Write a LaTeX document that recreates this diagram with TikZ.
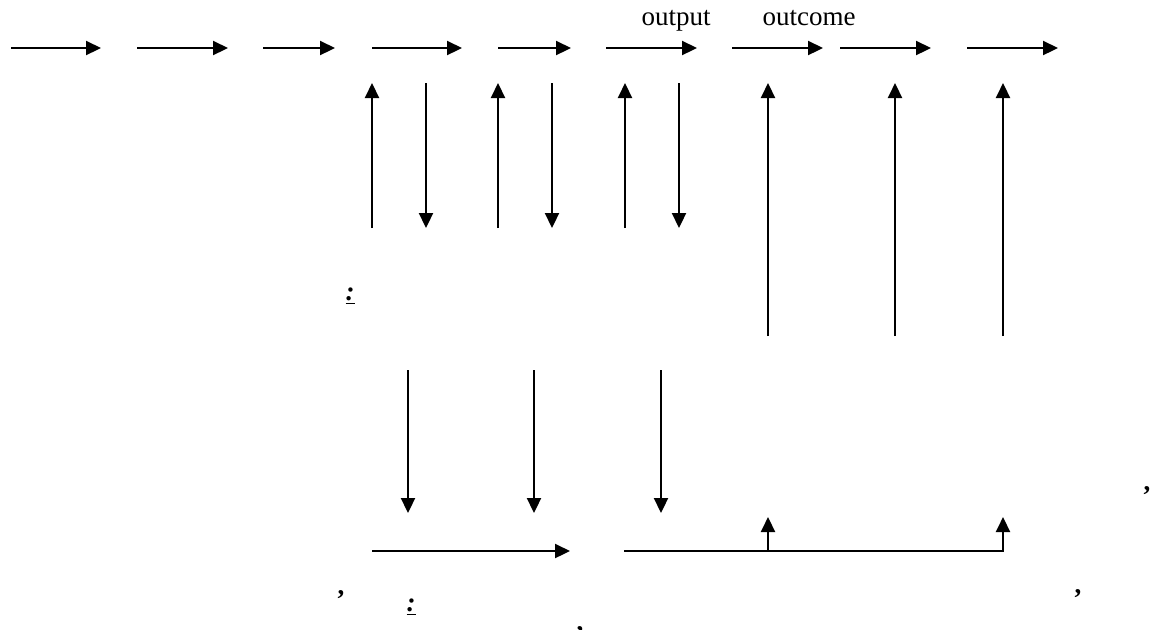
\documentclass[tikz,border=0pt]{standalone}
\usepackage{fontspec}
\setmainfont{Liberation Serif}
\usetikzlibrary{arrows.meta}

\begin{document}
\begin{tikzpicture}[
  x=0.5pt, y=-0.5pt,
  flow/.style={
    draw,
    line width=1.1pt,
    -{Triangle[length=7.5pt,width=7pt]},
  },
  label text/.style={
    inner sep=0pt,
    anchor=base,
    font=\fontsize{13.5}{16}\selectfont,
  },
  mark text/.style={
    label text,
    font=\fontsize{13.5}{16}\selectfont\bfseries,
  },
  ]
  \useasboundingbox (0,0) rectangle (1155,629);

  \foreach \i/\a/\b in {1/11/101, 2/137/228, 3/263/335, 4/372/462, 5/498/571,
    6/606/697, 7/732/823, 8/840/931, 9/967/1058} {
    \coordinate (stage-\i-in)  at (\a,48);
    \coordinate (stage-\i-out) at (\b,48);
    \path[flow] (stage-\i-in) -- (stage-\i-out);
  }

  \node[label text] (output)  at (676,25) {output};
  \node[label text] (outcome) at (809,25) {outcome};

  \foreach \i/\x in {1/372, 2/498, 3/625} {
    \coordinate (feed-\i-foot) at (\x,228);
    \coordinate (feed-\i-head) at (\x,83);
    \path[flow] (feed-\i-foot) -- (feed-\i-head);
  }
  \foreach \i/\x in {1/426, 2/552, 3/679} {
    \coordinate (back-\i-top) at (\x,83);
    \coordinate (back-\i-end) at (\x,228);
    \path[flow] (back-\i-top) -- (back-\i-end);
  }
  \foreach \i/\x in {1/768, 2/895, 3/1003} {
    \coordinate (rise-\i-foot) at (\x,336);
    \coordinate (rise-\i-head) at (\x,83);
    \path[flow] (rise-\i-foot) -- (rise-\i-head);
  }
  \foreach \i/\x in {1/408, 2/534, 3/661} {
    \coordinate (drop-\i-top) at (\x,370);
    \coordinate (drop-\i-end) at (\x,513);
    \path[flow] (drop-\i-top) -- (drop-\i-end);
  }

  \coordinate (base-in)  at (372,551);
  \coordinate (base-out) at (570,551);
  \path[flow] (base-in) -- (base-out);

  \coordinate (rail-start)  at (624,551);
  \coordinate (rail-tee)    at (768,551);
  \coordinate (rail-corner) at (1003,551);
  \coordinate (tee-head)    at (768,517);
  \coordinate (corner-head) at (1003,517);
  \path[flow] (rail-start) -- (rail-corner) -- (corner-head);
  \path[flow] (rail-tee) -- (tee-head);

  \node[mark text] (colon-mid) at (350,300) {\underline{\textit{:}}};
  \node[mark text] (colon-low) at (411,611) {\underline{\textit{:}}};
  \node[mark text] (comma-left)  at (341,594) {,};
  \node[mark text] (comma-mid)   at (580,630) {,};
  \node[mark text] (comma-right) at (1078,593) {,};
  \node[mark text] (comma-edge)  at (1147,490) {,};
\end{tikzpicture}
\end{document}
